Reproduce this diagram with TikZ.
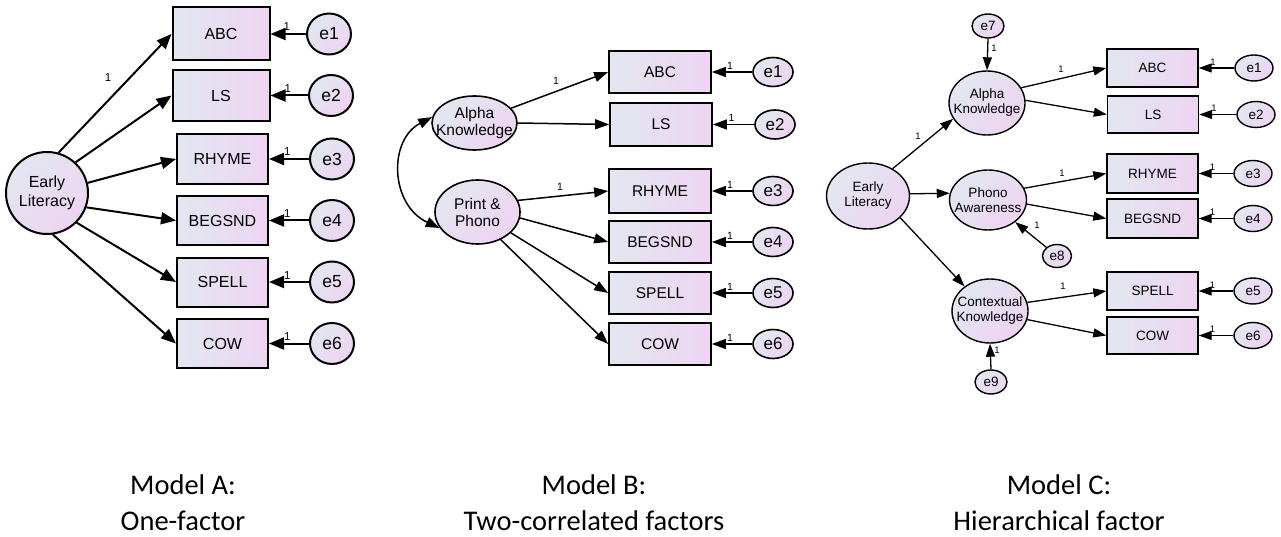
\documentclass[tikz,border=0pt]{standalone}
\usepackage{fontspec}
\setmainfont{Liberation Sans}
\newfontfamily\capfont{Carlito}
\usetikzlibrary{arrows.meta,shapes.geometric,calc}
\definecolor{shadeL}{RGB}{226,231,240}
\definecolor{shadeR}{RGB}{238,212,242}
% two centred lines that do not widen the surrounding shape
\newcommand\twoline[2]{\makebox[0pt]{#1}\\\makebox[0pt]{#2}}
\begin{document}
\begin{tikzpicture}[x=1pt,y=-1pt,
  obs/.style={draw, rectangle, left color=shadeL, right color=shadeR, inner sep=0pt},
  lat/.style={draw, ellipse, top color=shadeL, bottom color=shadeR, shading angle=45, inner sep=0pt, align=center},
  % model A
  obsA/.style={obs, line width=2pt, font=\fontsize{16}{18}\selectfont},
  latA/.style={lat, line width=2pt, font=\fontsize{16}{19}\selectfont},
  errA/.style={lat, line width=2pt, minimum width=44pt, minimum height=41pt, font=\fontsize{17.5}{18}\selectfont},
  arrA/.style={line width=2pt, -{Triangle[length=15pt,width=12pt]}},
  oneA/.style={inner sep=0pt, font=\fontsize{11.5}{11}\selectfont},
  % model B
  obsB/.style={obs, line width=1.7pt, minimum width=102pt, font=\fontsize{15.5}{18}\selectfont},
  latB/.style={lat, line width=1.6pt, font=\fontsize{15.5}{17}\selectfont},
  errB/.style={lat, line width=1.6pt, minimum width=40pt, minimum height=29pt, font=\fontsize{17}{18}\selectfont},
  arrB/.style={line width=1.5pt, -{Triangle[length=14pt,width=10pt]}},
  dblB/.style={line width=1.5pt, {Triangle[length=14pt,width=10pt]}-{Triangle[length=14pt,width=10pt]}},
  oneB/.style={inner sep=0pt, font=\fontsize{10.5}{10}\selectfont},
  % model C
  obsC/.style={obs, line width=1.4pt, minimum width=91pt, minimum height=38pt, font=\fontsize{13.5}{15}\selectfont},
  latC/.style={lat, line width=1.4pt, font=\fontsize{13.5}{15}\selectfont},
  errC/.style={lat, line width=1.4pt, font=\fontsize{13.5}{15}\selectfont},
  arrC/.style={line width=1.3pt, -{Triangle[length=13pt,width=9pt]}},
  oneC/.style={inner sep=0pt, font=\fontsize{9.5}{9}\selectfont},
  caption/.style={align=center, font=\capfont\fontsize{28.5}{36}\selectfont}
]
\fill[white] (0,0) rectangle (1281,537);
\useasboundingbox (0,0) rectangle (1281,537);

% ---------------- Model A: one factor ----------------
\node[latA, minimum width=82pt, minimum height=82pt] (AEL) at (47,193) {\twoline{Early}{Literacy}};
\node[obsA, minimum width=97pt, minimum height=53pt] (AABC) at (221,34) {ABC};
\node[obsA, minimum width=97pt, minimum height=51pt] (ALS) at (221,95.5) {LS};
\node[obsA, minimum width=91pt, minimum height=50pt] (ARHYME) at (222.5,159) {RHYME};
\node[obsA, minimum width=91pt, minimum height=49pt] (ABEGSND) at (222.5,220.5) {BEGSND};
\node[obsA, minimum width=91pt, minimum height=49pt] (ASPELL) at (222.5,282) {SPELL};
\node[obsA, minimum width=91pt, minimum height=49pt] (ACOW) at (222.5,343.5) {COW};
\node[errA] (Ae1) at (329,34) {e1};
\node[errA] (Ae2) at (331,95.5) {e2};
\node[errA] (Ae3) at (332,159) {e3};
\node[errA] (Ae4) at (332,220.5) {e4};
\node[errA] (Ae5) at (332,282) {e5};
\node[errA] (Ae6) at (332,343.5) {e6};

\draw[arrA] (AEL.74) -- (AABC.west);
\draw[arrA] (AEL.47) -- (ALS.west);
\draw[arrA] (AEL.14) -- (ARHYME.west);
\draw[arrA] (AEL.-20) -- (ABEGSND.west);
\draw[arrA] (AEL.-45) -- (ASPELL.west);
\draw[arrA] (AEL.-82) -- (ACOW.west);
\node[oneA] (AoneEL) at (108,78) {1};
\foreach \b/\e in {AABC/Ae1, ALS/Ae2, ARHYME/Ae3, ABEGSND/Ae4, ASPELL/Ae5, ACOW/Ae6}
  \draw[arrA] (\e.west) -- (\b.east) node[oneA, pos=0.54, above=2pt] (one\e) {1};

% ---------------- Model B: two correlated factors ----------------
\node[latB, minimum width=85pt, minimum height=54pt] (BAK) at (474.5,123) {\twoline{Alpha}{Knowledge}};
\node[latB, minimum width=85pt, minimum height=64pt] (BPP) at (477.5,212) {\twoline{Print \&}{Phono}};
\node[obsB, minimum height=42pt] (BABC) at (660,72) {ABC};
\node[obsB, minimum height=43pt] (BLS) at (661,124.5) {LS};
\node[obsB, minimum height=44pt] (BRHYME) at (660,191) {RHYME};
\node[obsB, minimum height=42pt] (BBEGSND) at (660,242) {BEGSND};
\node[obsB, minimum height=42pt] (BSPELL) at (660,293) {SPELL};
\node[obsB, minimum height=42pt] (BCOW) at (660,344) {COW};
\node[errB] (Be1) at (773,72) {e1};
\node[errB] (Be2) at (775,124.5) {e2};
\node[errB] (Be3) at (773,191) {e3};
\node[errB] (Be4) at (773,242) {e4};
\node[errB] (Be5) at (773,293) {e5};
\node[errB] (Be6) at (773,344) {e6};

\draw[arrB] (BAK.22) -- (BABC.west);
\draw[arrB] (BAK.0) -- (BLS.west);
\draw[arrB] (BPP.16) -- (BRHYME.west);
\draw[arrB] (BPP.-8) -- (BBEGSND.west);
\draw[arrB] (BPP.-32) -- (BSPELL.west);
\draw[arrB] (BPP.-50) -- (BCOW.west);
\draw[dblB] (BAK.172) .. controls (388,140) and (390,205) .. (BPP.203);
\node[oneB] (BoneAK) at (556,81) {1};
\node[oneB] (BonePP) at (560,187) {1};
\foreach \b/\e in {BABC/Be1, BLS/Be2, BRHYME/Be3, BBEGSND/Be4, BSPELL/Be5, BCOW/Be6}
  \draw[arrB] (\e.west) -- (\b.east) node[oneB, pos=0.55, above=2pt] (one\e) {1};

% ---------------- Model C: hierarchical factor ----------------
\node[latC, minimum width=83pt, minimum height=66pt] (CEL) at (868,196) {\twoline{Early}{Literacy}};
\node[latC, minimum width=76pt, minimum height=64pt] (CAK) at (987,103) {\twoline{Alpha}{Knowledge}};
\node[latC, minimum width=77pt, minimum height=60pt] (CPA) at (988,200) {\twoline{Phono}{Awareness}};
\node[latC, minimum width=76pt, minimum height=64pt] (CCK) at (990,311) {\twoline{Contextual}{Knowledge}};
\node[errC, minimum width=32pt, minimum height=24pt] (Ce7) at (988,26) {e7};
\node[errC, minimum width=29pt, minimum height=23pt] (Ce8) at (1057,256) {e8};
\node[errC, minimum width=32pt, minimum height=24pt] (Ce9) at (991,382) {e9};
\node[obsC] (CABC) at (1152.5,68) {ABC};
\node[obsC, minimum height=37pt] (CLS) at (1153,114.5) {LS};
\node[obsC, minimum height=39pt] (CRHYME) at (1152.5,173.5) {RHYME};
\node[obsC, minimum height=39pt] (CBEGSND) at (1152.5,218.5) {BEGSND};
\node[obsC] (CSPELL) at (1152.5,291) {SPELL};
\node[obsC, minimum height=37pt] (CCOW) at (1152.5,335.5) {COW};
\node[errC, minimum width=38pt, minimum height=26pt] (Ce1) at (1254,68) {e1};
\node[errC, minimum width=38pt, minimum height=26pt] (Ce2) at (1256,114.5) {e2};
\node[errC, minimum width=38pt, minimum height=26pt] (Ce3) at (1253,173.5) {e3};
\node[errC, minimum width=38pt, minimum height=26pt] (Ce4) at (1253,218.5) {e4};
\node[errC, minimum width=38pt, minimum height=26pt] (Ce5) at (1253,291) {e5};
\node[errC, minimum width=38pt, minimum height=26pt] (Ce6) at (1253,335.5) {e6};

\draw[arrC] (CEL.48) -- (CAK.205);
\draw[arrC] (CEL.3) -- (CPA.170);
\draw[arrC] (CEL.-34) -- (CCK.136);
\draw[arrC] (Ce7.south) -- (CAK.north);
\draw[arrC] (Ce8) -- (CPA);
\draw[arrC] (Ce9.north) -- (CCK.south);
\draw[arrC] (CAK.24) -- (CABC.west);
\draw[arrC] (CAK.4) -- (CLS.west);
\draw[arrC] (CPA.18) -- (CRHYME.west);
\draw[arrC] (CPA.-6) -- (CBEGSND.west);
\draw[arrC] (CCK.13) -- (CSPELL.west);
\draw[arrC] (CCK.-13) -- (CCOW.west);
\node[oneC] (ConeEL) at (918,136) {1};
\node[oneC] (Cone7) at (994,48) {1};
\node[oneC] (Cone8) at (1037,225) {1};
\node[oneC] (Cone9) at (997,350) {1};
\node[oneC] (ConeAK) at (1061,69) {1};
\node[oneC] (ConePA) at (1062,173) {1};
\node[oneC] (ConeCK) at (1063,286) {1};
\foreach \b/\e in {CABC/Ce1, CLS/Ce2, CRHYME/Ce3, CBEGSND/Ce4, CSPELL/Ce5, CCOW/Ce6}
  \draw[arrC] (\e.west) -- (\b.east) node[oneC, pos=0.6, above=2pt] (one\e) {1};

% ---------------- captions ----------------
\node[caption] (capA) at (183,503) {Model A:\\One-factor};
\node[caption] (capB) at (594,503) {Model B:\\Two-correlated factors};
\node[caption] (capC) at (1059,503) {Model C:\\Hierarchical factor};
\end{tikzpicture}
\end{document}
